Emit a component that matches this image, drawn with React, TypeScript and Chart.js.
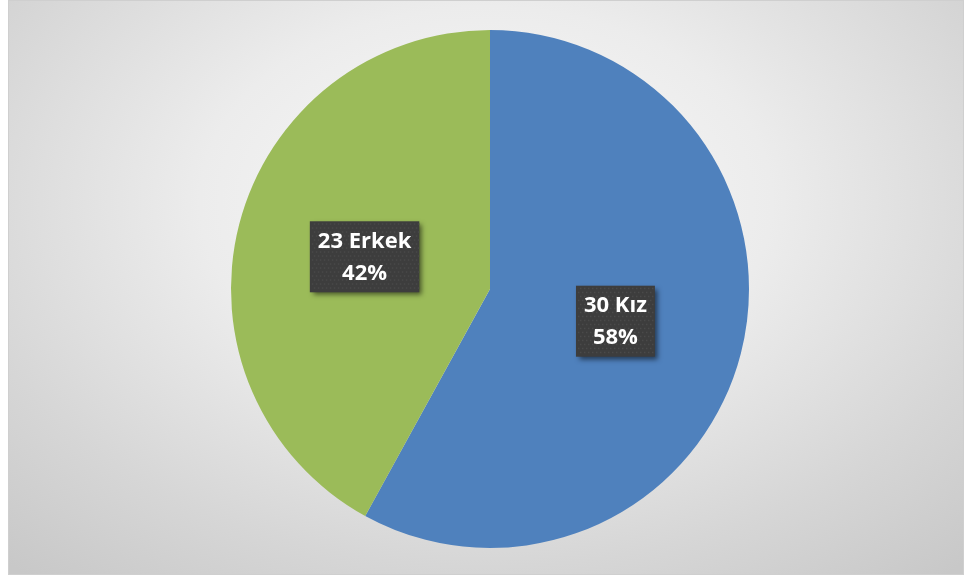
import React, { useEffect, useRef } from "react";
import { Chart, registerables } from "chart.js";

Chart.register(...registerables);

const categories = ["Kız", "Erkek"];
const counts = [30, 23];
const shares = [58, 42];
const percentLabels = ["58%", "42%"];
const colors = ["#4F81BD", "#9BBB59"];

const labelPlugin = {
  id: "boxLabels",
  afterDatasetsDraw(chart: any) {
    const ctx = chart.ctx as CanvasRenderingContext2D;
    const meta = chart.getDatasetMeta(0);
    meta.data.forEach((arc: any, i: number) => {
      const p = arc.getCenterPoint();
      const line1 = `${counts[i]} ${categories[i]}`;
      const line2 = percentLabels[i];
      ctx.save();
      ctx.font = "bold 22px 'Open Sans'";
      const tw = Math.max(ctx.measureText(line1).width, ctx.measureText(line2).width);
      const w = tw + 16;
      const h = 71;
      const x = p.x - w / 2;
      const y = p.y - h / 2;
      ctx.shadowColor = "rgba(0,0,0,0.55)";
      ctx.shadowBlur = 5;
      ctx.shadowOffsetX = 3;
      ctx.shadowOffsetY = 3;
      ctx.fillStyle = "#3d3d3d";
      ctx.fillRect(x, y, w, h);
      ctx.shadowColor = "transparent";
      ctx.shadowBlur = 0;
      ctx.shadowOffsetX = 0;
      ctx.shadowOffsetY = 0;
      ctx.fillStyle = "#4a4a4a";
      for (let yy = y + 2; yy < y + h - 1; yy += 4) {
        for (let xx = x + 2 + ((Math.round((yy - y) / 4) % 2) * 2); xx < x + w - 1; xx += 4) {
          ctx.fillRect(xx, yy, 1.5, 1.5);
        }
      }
      ctx.fillStyle = "#ffffff";
      ctx.textAlign = "center";
      ctx.textBaseline = "middle";
      ctx.fillText(line1, p.x, p.y - 15);
      ctx.fillText(line2, p.x, p.y + 17);
      ctx.restore();
    });
  },
};

export default function App() {
  const ref = useRef<HTMLCanvasElement | null>(null);
  useEffect(() => {
    if (!ref.current) return;
    const chart = new Chart(ref.current, {
      type: "pie",
      data: {
        labels: categories,
        datasets: [
          {
            data: shares,
            backgroundColor: colors,
            borderWidth: 0,
          },
        ],
      },
      options: {
        animation: false,
        responsive: true,
        maintainAspectRatio: false,
        layout: { padding: { top: 29, bottom: 26, left: 8, right: 0 } },
        plugins: {
          legend: { display: false },
          tooltip: { enabled: false },
        },
      },
      plugins: [labelPlugin],
    });
    return () => chart.destroy();
  }, []);
  return (
    <div
      style={{
        position: "absolute",
        left: 8,
        top: 0,
        width: 956,
        height: 575,
        boxSizing: "border-box",
        border: "1px solid #cfcfcf",
        background:
          "radial-gradient(ellipse 75% 85% at 50% 35%, #fafafa 0%, #ececec 40%, #d6d6d6 75%, #c8c8c8 100%)",
      }}
    >
      <canvas
        ref={ref}
        style={{ position: "absolute", left: 0, top: 0, width: "100%", height: "100%" }}
      />
    </div>
  );
}
